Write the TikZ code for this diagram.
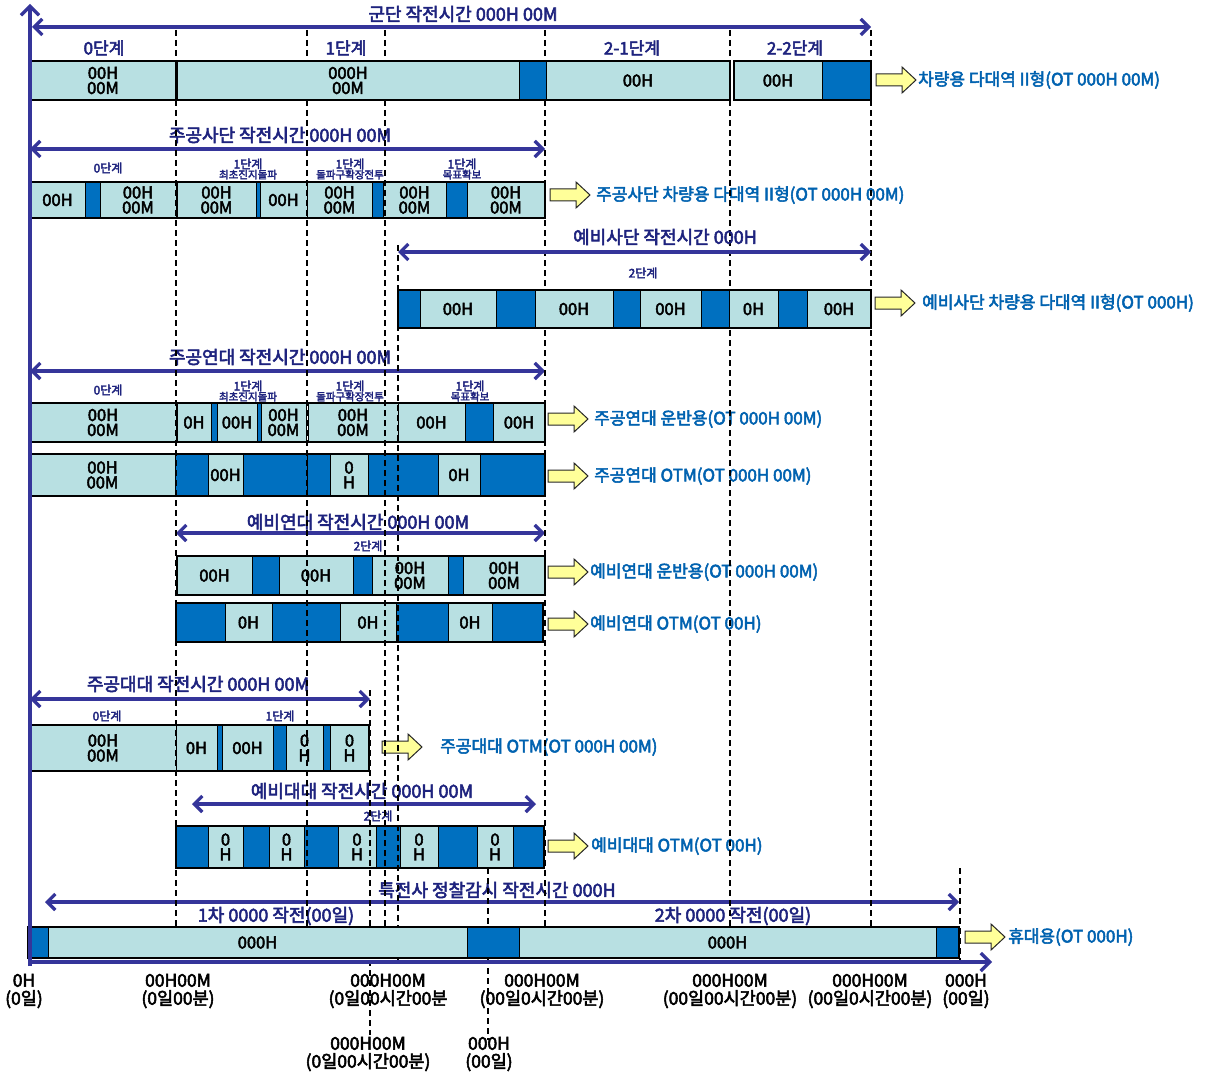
\documentclass[tikz,border=0pt]{standalone}
\usepackage{fontspec}
\setmainfont{Noto Sans CJK KR}[FakeBold=3]
\usetikzlibrary{arrows.meta}
\definecolor{lt}{HTML}{B8E0E2}
\definecolor{dk}{HTML}{0070C0}
\definecolor{nv}{HTML}{35359A}
\definecolor{tt}{HTML}{1E237E}
\definecolor{ct}{HTML}{0062B0}
\definecolor{yl}{HTML}{FFFF99}
\newcounter{nc}
\tikzset{
  L/.style={fill=lt,draw=black,line width=0.9pt},
  D/.style={fill=dk,draw=black,line width=0.9pt},
  bartxt/.style={font=\fontsize{16.5}{15}\selectfont,text=black,align=center,inner sep=0pt},
  ttl/.style={font=\fontsize{18}{18}\selectfont,text=tt,inner sep=0pt},
  ph/.style={font=\fontsize{17}{17}\selectfont,text=tt,inner sep=0pt,align=center},
  phs/.style={font=\fontsize{12}{12}\selectfont,text=tt,inner sep=0pt,align=center},
  cotxt/.style={font=\fontsize{17}{17}\selectfont,text=ct,inner sep=0pt,anchor=west},
  axl/.style={font=\fontsize{17.5}{18}\selectfont,text=black,inner sep=0pt,align=center},
  dsh/.style={draw=black,line width=1.1pt,dash pattern=on 6pt off 4pt},
  spanarrow/.style={draw=nv,line width=3.2pt,{Straight Barb[length=8pt,width=16pt]}-{Straight Barb[length=8pt,width=16pt]}},
  axisline/.style={draw=nv,line width=3.2pt,-{Straight Barb[length=9pt,width=18pt]}},
  frm/.style={draw=black,line width=1.8pt},
}
\newcommand\sub[1]{{\fontsize{10.5}{10.5}\selectfont #1}}
\newcommand\blk[6]{\stepcounter{nc}%
  \path[#1] (#2,#4) rectangle (#3,#5);
  \node[bartxt] (n\thenc) at ({(#2+#3)/2},{(#4+#5)/2}) {#6};}
\newcommand\barfrm[4]{\draw[frm] (#1,#3) rectangle (#2,#4);}
\newcommand\callout[5]{%
  \filldraw[fill=yl,draw=black!85,line width=1pt] (#2,{#3-6}) -- ({#2+26},{#3-6}) -- ({#2+26},{#3-13}) -- ({#2+40},#3) -- ({#2+26},{#3+13}) -- ({#2+26},{#3+6}) -- (#2,{#3+6}) -- cycle;
  \node[cotxt] (#1) at (#4,#3) {#5};}
\newcommand\tspan[4]{\draw[spanarrow] (#1,#3) -- (#2,#3);}
\begin{document}
\begin{tikzpicture}[x=1pt,y=-1pt]
\useasboundingbox (0,0) rectangle (1212,1078);
\fill[white] (0,0) rectangle (1212,1078);

% ---------- row 1 : 군단 ----------
\node[ttl] (t1) at (463,14) {군단 작전시간 000H 00M};
\tspan{32}{871}{27}{}
\node[ph] (p1a) at (104,48) {0단계};
\node[ph] (p1b) at (346,48) {1단계};
\node[ph] (p1c) at (632,48) {2-1단계};
\node[ph] (p1d) at (795,48) {2-2단계};

% ---------- row 2 : 주공사단 ----------
\node[ttl] (t2) at (280,135) {주공사단 작전시간 000H 00M};
\tspan{30}{545}{149}{}
\node[phs] (p2a) at (108,168) {0단계};
\node[phs] (p2b) at (248,169) {1단계\\[-2pt]\sub{최초진지돌파}};
\node[phs] (p2c) at (350,169) {1단계\\[-2pt]\sub{돌파구확장전투}};
\node[phs] (p2d) at (462,169) {1단계\\[-2pt]\sub{목표확보}};
\blk{L}{30}{85}{182}{218}{00H}
\blk{D}{85}{100}{182}{218}{}
\blk{L}{100}{176}{182}{218}{00H\\00M}
\blk{L}{177}{256}{182}{218}{00H\\00M}
\blk{D}{256}{260}{182}{218}{}
\blk{L}{260}{307}{182}{218}{00H}
\blk{L}{307}{372}{182}{218}{00H\\00M}
\blk{D}{372}{383}{182}{218}{}
\blk{L}{383}{446}{182}{218}{00H\\00M}
\blk{D}{446}{467}{182}{218}{}
\blk{L}{467}{545}{182}{218}{00H\\00M}
\barfrm{30}{545}{182}{218}
\callout{c2}{550}{195}{596}{주공사단 차량용 다대역 II형(OT 000H 00M)}

% ---------- row 4 : 주공연대 ----------
\node[ttl] (t4) at (280,357) {주공연대 작전시간 000H 00M};
\tspan{30}{545}{371}{}
\node[phs] (p4a) at (108,390) {0단계};
\node[phs] (p4b) at (248,391) {1단계\\[-2pt]\sub{최초진지돌파}};
\node[phs] (p4c) at (350,391) {1단계\\[-2pt]\sub{돌파구확장전투}};
\node[phs] (p4d) at (470,391) {1단계\\[-2pt]\sub{목표확보}};
\blk{L}{30}{176}{403}{442}{00H\\00M}
\blk{L}{177}{211}{403}{442}{0H}
\blk{D}{211}{217}{403}{442}{}
\blk{L}{217}{257}{403}{442}{00H}
\blk{D}{257}{261}{403}{442}{}
\blk{L}{261}{306}{403}{442}{00H\\00M}
\blk{L}{308}{398}{403}{442}{00H\\00M}
\blk{L}{398}{465}{403}{442}{00H}
\blk{D}{465}{493}{403}{442}{}
\blk{L}{493}{545}{403}{442}{00H}
\barfrm{30}{545}{403}{442}
\callout{c4a}{548}{419}{594}{주공연대 운반용(OT 000H 00M)}
\blk{L}{30}{175}{454}{496}{00H\\00M}
\blk{D}{175}{208}{454}{496}{}
\blk{L}{208}{243}{454}{496}{00H}
\blk{D}{243}{307}{454}{496}{}
\blk{D}{307}{330}{454}{496}{}
\blk{L}{330}{368}{454}{496}{0\\H}
\blk{D}{368}{438}{454}{496}{}
\blk{L}{438}{480}{454}{496}{0H}
\blk{D}{480}{545}{454}{496}{}
\barfrm{30}{545}{454}{496}
\callout{c4b}{548}{476}{594}{주공연대 OTM(OT 000H 00M)}

% ---------- row 5 : 예비연대 ----------
\node[ttl] (t5) at (358,522) {예비연대 작전시간 000H 00M};
\tspan{176}{545}{533}{}
\node[phs] (p5a) at (368,546) {2단계};
\blk{L}{177}{252}{556}{595}{00H}
\blk{D}{252}{279}{556}{595}{}
\blk{L}{279}{353}{556}{595}{00H}
\blk{D}{353}{372}{556}{595}{}
\blk{L}{372}{448}{556}{595}{00H\\00M}
\blk{D}{448}{463}{556}{595}{}
\blk{L}{463}{545}{556}{595}{00H\\00M}
\barfrm{177}{545}{556}{595}
\callout{c5a}{548}{572}{590}{예비연대 운반용(OT 000H 00M)}
\blk{D}{176}{225}{603}{642}{}
\blk{L}{225}{272}{603}{642}{0H}
\blk{D}{272}{340}{603}{642}{}
\blk{L}{340}{396}{603}{642}{0H}
\blk{D}{396}{448}{603}{642}{}
\blk{L}{448}{492}{603}{642}{0H}
\blk{D}{492}{543}{603}{642}{}
\barfrm{176}{543}{603}{642}
\callout{c5b}{548}{624}{590}{예비연대 OTM(OT 00H)}

% ---------- row 6 : 주공대대 ----------
\node[ttl] (t6) at (198,684) {주공대대 작전시간 000H 00M};
\tspan{30}{370}{699}{}
\node[phs] (p6a) at (107,716) {0단계};
\node[phs] (p6b) at (280,716) {1단계};
\blk{L}{30}{176}{725}{771}{00H\\00M}
\blk{L}{176}{217}{725}{771}{0H}
\blk{D}{217}{222}{725}{771}{}
\blk{L}{222}{273}{725}{771}{00H}
\blk{D}{273}{286}{725}{771}{}
\blk{L}{286}{323}{725}{771}{0\\H}
\blk{D}{323}{330}{725}{771}{}
\blk{L}{330}{369}{725}{771}{0\\H}
\barfrm{30}{369}{725}{771}
\callout{c6}{382}{747}{440}{주공대대 OTM(OT 000H 00M)}

% ---------- row 7 : 예비대대 ----------
\node[ttl] (t7) at (362,791) {예비대대 작전시간 000H 00M};
\tspan{192}{536}{804}{}
\node[phs] (p7a) at (378,816) {2단계};
\blk{D}{176}{208}{826}{868}{}
\blk{L}{208}{243}{826}{868}{0\\H}
\blk{D}{243}{269}{826}{868}{}
\blk{L}{269}{304}{826}{868}{0\\H}
\blk{D}{304}{338}{826}{868}{}
\blk{L}{338}{376}{826}{868}{0\\H}
\blk{D}{376}{400}{826}{868}{}
\blk{L}{400}{438}{826}{868}{0\\H}
\blk{D}{438}{477}{826}{868}{}
\blk{L}{477}{513}{826}{868}{0\\H}
\blk{D}{513}{544}{826}{868}{}
\barfrm{176}{544}{826}{868}
\callout{c7}{548}{846}{591}{예비대대 OTM(OT 00H)}

% ---------- row 8 : 특전사 ----------
\node[ttl] (t8) at (497,890) {특전사 정찰감시 작전시간 000H};
\tspan{45}{959}{902}{}
\node[ttl] (p8a) at (276,916) {1차 0000 작전(00일)};
\node[ttl] (p8b) at (733,916) {2차 0000 작전(00일)};

% ---------- dashed guide lines ----------
\foreach \x in {176,307,385,545,730,871} \draw[dsh] (\x,30) -- (\x,962);
\draw[dsh] (398,245) -- (398,962);
\draw[dsh] (370,690) -- (370,1035);
\draw[dsh] (488,868) -- (488,1040);
\draw[dsh] (960,868) -- (960,962);

% ---------- row 1 bar (covers guides) ----------
\blk{L}{30}{176}{61}{100}{00H\\00M}
\blk{L}{177}{519}{61}{100}{000H\\00M}
\blk{D}{519}{546}{61}{100}{}
\blk{L}{546}{730}{61}{100}{00H}
\blk{L}{734}{822}{61}{100}{00H}
\blk{D}{822}{871}{61}{100}{}
\barfrm{30}{176}{61}{100}
\barfrm{177}{730}{61}{100}
\barfrm{734}{871}{61}{100}
\callout{c1}{876}{80}{918}{차량용 다대역 II형(OT 000H 00M)}

% ---------- row 3 bar : 예비사단 ----------
\node[ttl] (t3) at (665,237) {예비사단 작전시간 000H};
\tspan{398}{871}{252}{}
\node[phs] (p3a) at (643,273) {2단계};
\blk{D}{398}{420}{290}{328}{}
\blk{L}{420}{496}{290}{328}{00H}
\blk{D}{496}{535}{290}{328}{}
\blk{L}{535}{613}{290}{328}{00H}
\blk{D}{613}{640}{290}{328}{}
\blk{L}{640}{701}{290}{328}{00H}
\blk{D}{701}{729}{290}{328}{}
\blk{L}{729}{778}{290}{328}{0H}
\blk{D}{778}{807}{290}{328}{}
\blk{L}{807}{871}{290}{328}{00H}
\barfrm{398}{871}{290}{328}
\callout{c3}{875}{303}{922}{예비사단 차량용 다대역 II형(OT 000H)}

% ---------- row 8 bar ----------
\blk{D}{28}{48}{927}{958}{}
\blk{L}{48}{467}{927}{958}{000H}
\blk{D}{467}{519}{927}{958}{}
\blk{L}{519}{936}{927}{958}{000H}
\blk{D}{936}{959}{927}{958}{}
\barfrm{28}{959}{927}{958}
\callout{c8}{965}{937}{1008}{휴대용(OT 000H)}

% ---------- axes ----------
\draw[axisline] (30,966) -- (30,4);
\draw[axisline] (28,962) -- (992,962);

% ---------- axis labels ----------
\node[axl] (a0) at (24,991) {0H\\(0일)};
\node[axl] (a1) at (178,991) {00H00M\\(0일00분)};
\node[axl] (a2) at (388,991) {000H00M\\(0일00시간00분};
\node[axl] (a3) at (542,991) {000H00M\\(00일0시간00분)};
\node[axl] (a4) at (730,991) {000H00M\\(00일00시간00분)};
\node[axl] (a5) at (870,991) {000H00M\\(00일0시간00분)};
\node[axl] (a6) at (966,991) {000H\\(00일)};
\node[axl] (a7) at (368,1054) {000H00M\\(0일00시간00분)};
\node[axl] (a8) at (489,1054) {000H\\(00일)};
\end{tikzpicture}
\end{document}
